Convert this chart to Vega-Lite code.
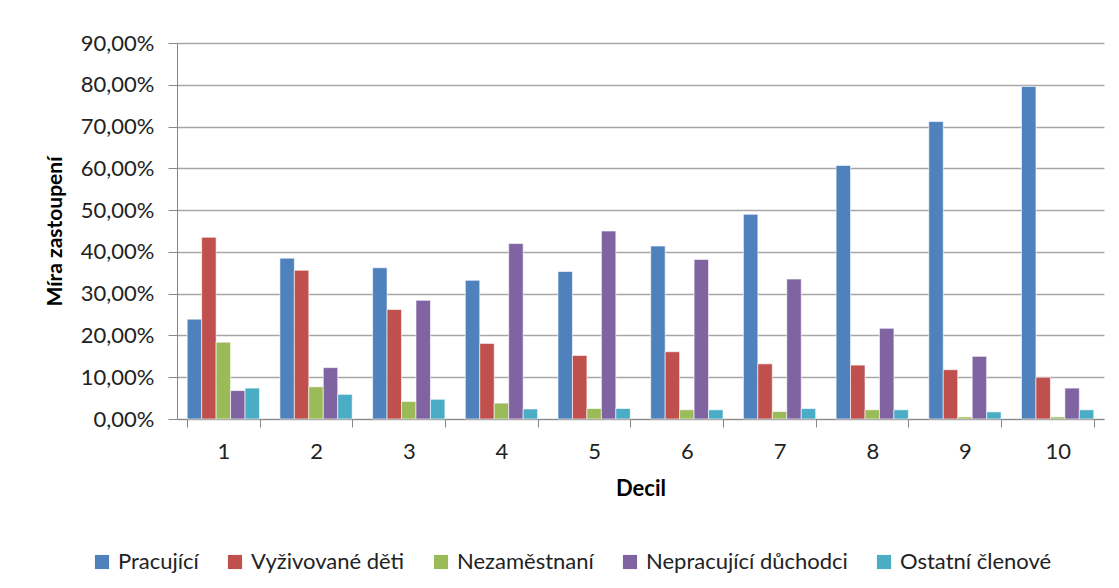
{
  "$schema": "https://vega.github.io/schema/vega-lite/v6.json",
  "width": 927,
  "height": 376,
  "autosize": "none",
  "padding": {"left": 177, "top": 43, "right": 15, "bottom": 169},
  "background": "#ffffff",
  "config": {
    "view": {"stroke": null},
    "font": "Lato",
    "axis": {"labelFont": "Lato", "titleFont": "Lato"},
    "legend": {"labelFont": "Lato"}
  },
  "data": {
    "values": [
      {"Decil": "1", "Skupina": "Pracující", "Hodnota": 0.239},
      {"Decil": "1", "Skupina": "Vyživované děti", "Hodnota": 0.435},
      {"Decil": "1", "Skupina": "Nezaměstnaní", "Hodnota": 0.184},
      {"Decil": "1", "Skupina": "Nepracující důchodci", "Hodnota": 0.068},
      {"Decil": "1", "Skupina": "Ostatní členové", "Hodnota": 0.074},
      {"Decil": "2", "Skupina": "Pracující", "Hodnota": 0.385},
      {"Decil": "2", "Skupina": "Vyživované děti", "Hodnota": 0.356},
      {"Decil": "2", "Skupina": "Nezaměstnaní", "Hodnota": 0.077},
      {"Decil": "2", "Skupina": "Nepracující důchodci", "Hodnota": 0.123},
      {"Decil": "2", "Skupina": "Ostatní členové", "Hodnota": 0.059},
      {"Decil": "3", "Skupina": "Pracující", "Hodnota": 0.362},
      {"Decil": "3", "Skupina": "Vyživované děti", "Hodnota": 0.262},
      {"Decil": "3", "Skupina": "Nezaměstnaní", "Hodnota": 0.042},
      {"Decil": "3", "Skupina": "Nepracující důchodci", "Hodnota": 0.284},
      {"Decil": "3", "Skupina": "Ostatní členové", "Hodnota": 0.047},
      {"Decil": "4", "Skupina": "Pracující", "Hodnota": 0.332},
      {"Decil": "4", "Skupina": "Vyživované děti", "Hodnota": 0.181},
      {"Decil": "4", "Skupina": "Nezaměstnaní", "Hodnota": 0.038},
      {"Decil": "4", "Skupina": "Nepracující důchodci", "Hodnota": 0.42},
      {"Decil": "4", "Skupina": "Ostatní členové", "Hodnota": 0.024},
      {"Decil": "5", "Skupina": "Pracující", "Hodnota": 0.353},
      {"Decil": "5", "Skupina": "Vyživované děti", "Hodnota": 0.152},
      {"Decil": "5", "Skupina": "Nezaměstnaní", "Hodnota": 0.025},
      {"Decil": "5", "Skupina": "Nepracující důchodci", "Hodnota": 0.45},
      {"Decil": "5", "Skupina": "Ostatní členové", "Hodnota": 0.025},
      {"Decil": "6", "Skupina": "Pracující", "Hodnota": 0.414},
      {"Decil": "6", "Skupina": "Vyživované děti", "Hodnota": 0.161},
      {"Decil": "6", "Skupina": "Nezaměstnaní", "Hodnota": 0.022},
      {"Decil": "6", "Skupina": "Nepracující důchodci", "Hodnota": 0.382},
      {"Decil": "6", "Skupina": "Ostatní členové", "Hodnota": 0.022},
      {"Decil": "7", "Skupina": "Pracující", "Hodnota": 0.49},
      {"Decil": "7", "Skupina": "Vyživované děti", "Hodnota": 0.132},
      {"Decil": "7", "Skupina": "Nezaměstnaní", "Hodnota": 0.018},
      {"Decil": "7", "Skupina": "Nepracující důchodci", "Hodnota": 0.335},
      {"Decil": "7", "Skupina": "Ostatní členové", "Hodnota": 0.025},
      {"Decil": "8", "Skupina": "Pracující", "Hodnota": 0.607},
      {"Decil": "8", "Skupina": "Vyživované děti", "Hodnota": 0.129},
      {"Decil": "8", "Skupina": "Nezaměstnaní", "Hodnota": 0.022},
      {"Decil": "8", "Skupina": "Nepracující důchodci", "Hodnota": 0.217},
      {"Decil": "8", "Skupina": "Ostatní členové", "Hodnota": 0.022},
      {"Decil": "9", "Skupina": "Pracující", "Hodnota": 0.712},
      {"Decil": "9", "Skupina": "Vyživované děti", "Hodnota": 0.118},
      {"Decil": "9", "Skupina": "Nezaměstnaní", "Hodnota": 0.005},
      {"Decil": "9", "Skupina": "Nepracující důchodci", "Hodnota": 0.15},
      {"Decil": "9", "Skupina": "Ostatní členové", "Hodnota": 0.017},
      {"Decil": "10", "Skupina": "Pracující", "Hodnota": 0.796},
      {"Decil": "10", "Skupina": "Vyživované děti", "Hodnota": 0.1},
      {"Decil": "10", "Skupina": "Nezaměstnaní", "Hodnota": 0.005},
      {"Decil": "10", "Skupina": "Nepracující důchodci", "Hodnota": 0.074},
      {"Decil": "10", "Skupina": "Ostatní členové", "Hodnota": 0.022}
    ]
  },
  "mark": {"type": "bar", "stroke": "#ffffff", "strokeWidth": 1, "strokeOpacity": 0.6},
  "encoding": {
    "x": {
      "field": "Decil",
      "type": "ordinal",
      "sort": ["1","2","3","4","5","6","7","8","9","10"],
      "scale": {"paddingInner": 0.22, "paddingOuter": 0.11},
      "axis": {
        "title": "Decil",
        "titleFontSize": 22,
        "titleFontWeight": "bold",
        "titleColor": "#000000",
        "titlePadding": 16,
        "labelAngle": 0,
        "labelFontSize": 22,
        "labelColor": "#222222",
        "labelPadding": 14,
        "tickBand": "extent",
        "tickSize": 8,
        "tickColor": "#888888",
        "domainColor": "#888888",
        "grid": false
      }
    },
    "xOffset": {
      "field": "Skupina",
      "type": "nominal",
      "sort": ["Pracující", "Vyživované děti", "Nezaměstnaní", "Nepracující důchodci", "Ostatní členové"],
      "scale": {"paddingInner": 0, "paddingOuter": 0}
    },
    "y": {
      "field": "Hodnota",
      "type": "quantitative",
      "scale": {"domain": [0, 0.9]},
      "axis": {
        "title": "Míra zastoupení",
        "titleFontSize": 21,
        "titleFontWeight": "bold",
        "titleColor": "#000000",
        "titlePadding": 15,
        "values": [0, 0.1, 0.2, 0.3, 0.4, 0.5, 0.6, 0.7, 0.8, 0.9],
        "labelExpr": "replace(format(datum.value, '.2%'), '.', ',')",
        "labelFontSize": 22,
        "labelColor": "#222222",
        "labelPadding": 14,
        "tickSize": 9,
        "tickColor": "#888888",
        "domainColor": "#888888",
        "gridColor": "#a6a6a6",
        "gridWidth": 1.3
      }
    },
    "color": {
      "field": "Skupina",
      "type": "nominal",
      "sort": ["Pracující", "Vyživované děti", "Nezaměstnaní", "Nepracující důchodci", "Ostatní členové"],
      "scale": {
        "domain": ["Pracující", "Vyživované děti", "Nezaměstnaní", "Nepracující důchodci", "Ostatní členové"],
        "range": ["#4F81BD", "#C0504D", "#9BBB59", "#8064A2", "#4BACC6"]
      },
      "legend": {
        "title": null,
        "orient": "none",
        "legendX": -86,
        "legendY": 508,
        "direction": "horizontal",
        "symbolType": "square",
        "symbolSize": 200,
        "symbolStrokeWidth": 0,
        "symbolOffset": 0,
        "labelFontSize": 22,
        "labelColor": "#222222",
        "labelLimit": 0,
        "labelOffset": 5,
        "columnPadding": 25
      }
    }
  }
}
